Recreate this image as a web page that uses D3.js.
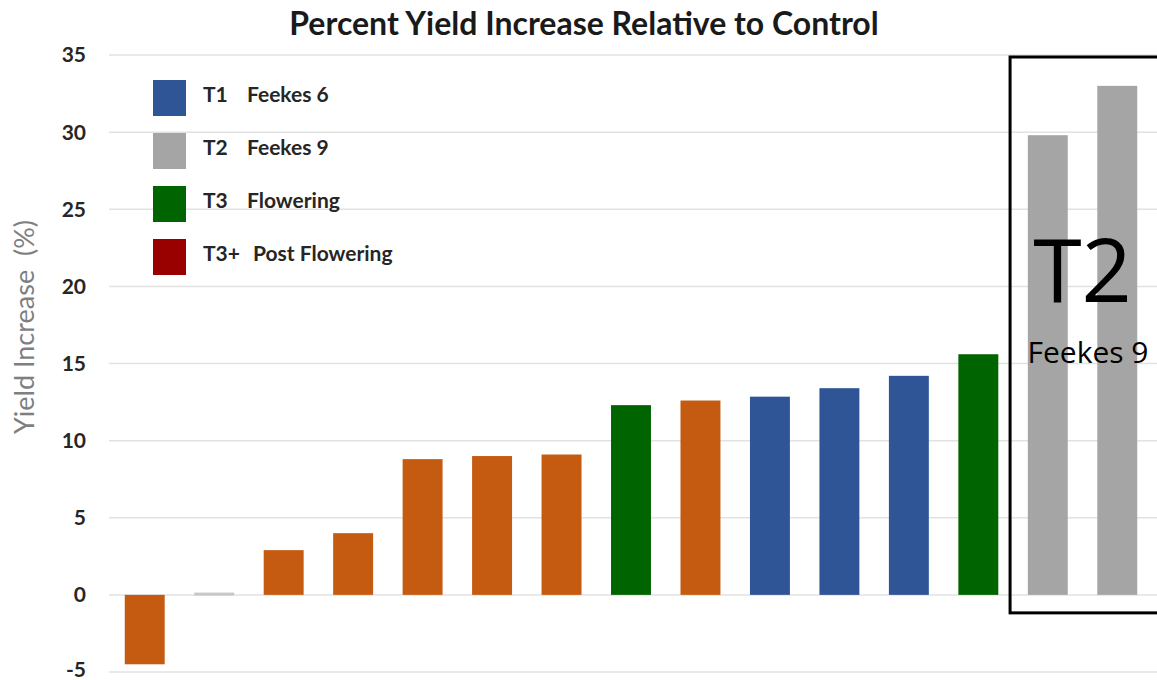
<!DOCTYPE html>
<html><head><meta charset="utf-8">
<script src="https://cdn.jsdelivr.net/npm/d3@7"></script>
<style>body{margin:0;background:#fff}svg{display:block}</style>
</head><body>
<svg id="c" width="1157" height="680"></svg>
<script>
const title = "Percent Yield Increase Relative to Control";
const yTitle = "Yield Increase  (%)";
const barIds = ["b1","b2","b3","b4","b5","b6","b7","b8","b9","b10","b11","b12","b13","b14","b15"];
const barGroups = ["T3+","T3+","T3+","T3+","T3+","T3+","T3+","T3","T3+","T1","T1","T1","T3","T2","T2"];
const barValues = [-4.5,0.15,2.9,4.0,8.8,9.0,9.1,12.3,12.6,12.85,13.4,14.2,15.6,29.8,33.0];
const yTicks = [-5,0,5,10,15,20,25,30,35];
const yTickLabels = ["-5","0","5","10","15","20","25","30","35"];
const legendCodes = ["T1","T2","T3","T3+"];
const legendNames = ["Feekes 6","Feekes 9","Flowering","Post Flowering"];
const legendColors = ["#2F5597","#A5A5A5","#006400","#990000"];
const barColorByGroup = {"T1":"#2F5597","T2":"#A5A5A5","T3":"#006400","T3+":"#C55A11"};
const nearZeroColor = "#C8C8C8";
const boxLabel = "T2", boxSub = "Feekes 9";

const svg = d3.select("#c");
const y = d3.scaleLinear().domain([-5,35]).range([672,55]);
const x = d3.scaleBand().domain(barIds).range([110,1152]).paddingInner(0.425).paddingOuter(0.2125);

// gridlines
svg.append("g").selectAll("line").data(yTicks).join("line")
  .attr("x1",109).attr("x2",1157).attr("y1",d=>y(d)).attr("y2",d=>y(d))
  .attr("stroke","#E2E2E2").attr("stroke-width",1.5);

// y axis labels
const ax = svg.append("g").attr("transform","translate(86,0)")
  .call(d3.axisLeft(y).tickValues(yTicks).tickSize(0).tickPadding(0)
    .tickFormat((d,i)=>yTickLabels[i]));
ax.select(".domain").remove();
ax.selectAll("text").attr("font-family","Lato, 'Open Sans', sans-serif").attr("font-weight","bold")
  .attr("font-size",21).attr("fill","#262626").attr("dy",d=>d===-5?"0.2em":"0.33em");

// y title
svg.append("text").attr("transform","translate(34,327) rotate(-90)")
  .attr("text-anchor","middle").attr("font-family","Lato, 'Open Sans', sans-serif")
  .attr("font-size",27).attr("fill","#7F7F7F").attr("xml:space","preserve").text(yTitle);

// bars
svg.append("g").selectAll("rect").data(barIds).join("rect")
  .attr("x",d=>x(d)).attr("width",x.bandwidth())
  .attr("y",(d,i)=>y(Math.max(0,barValues[i])))
  .attr("height",(d,i)=>Math.max(3,Math.abs(y(barValues[i])-y(0))))
  .attr("fill",(d,i)=>Math.abs(barValues[i])<0.5?nearZeroColor:barColorByGroup[barGroups[i]]);

// title
svg.append("text").attr("x",584).attr("y",35).attr("text-anchor","middle")
  .attr("font-family","Lato, 'Open Sans', sans-serif").attr("font-weight","bold")
  .attr("font-size",32).attr("fill","#1a1a1a").text(title);

// legend
const lg = svg.append("g");
legendCodes.forEach((c,i)=>{
  const yy = 80 + i*53;
  lg.append("rect").attr("x",153).attr("y",yy).attr("width",33).attr("height",36).attr("fill",legendColors[i]);
  lg.append("text").attr("x",203).attr("y",yy+22).attr("font-family","Lato, 'Open Sans', sans-serif")
    .attr("font-weight","bold").attr("font-size",21).attr("fill","#262626").text(c);
  lg.append("text").attr("x",c==="T3+"?253:247).attr("y",yy+22).attr("font-family","Lato, 'Open Sans', sans-serif")
    .attr("font-weight","bold").attr("font-size",21).attr("fill","#262626").text(legendNames[i]);
});

// highlight box
const bx0 = x("b14") - (x.step()-x.bandwidth())/2 - 3;
svg.append("rect").attr("x",bx0).attr("y",57).attr("width",1157-bx0+10).attr("height",y(0)+18-57)
  .attr("fill","none").attr("stroke","#000").attr("stroke-width",3);
const bcx = (x("b14")+x("b15")+x.bandwidth())/2;
svg.append("text").attr("x",bcx).attr("y",302).attr("text-anchor","middle")
  .attr("font-family","'Open Sans', Lato, sans-serif").attr("font-size",88).attr("fill","#000").text(boxLabel);
svg.append("text").attr("x",1088).attr("y",363).attr("text-anchor","middle")
  .attr("font-family","'Open Sans', Lato, sans-serif").attr("font-size",30).attr("fill","#000")
  .attr("xml:space","preserve").text(boxSub);
</script>
</body></html>
